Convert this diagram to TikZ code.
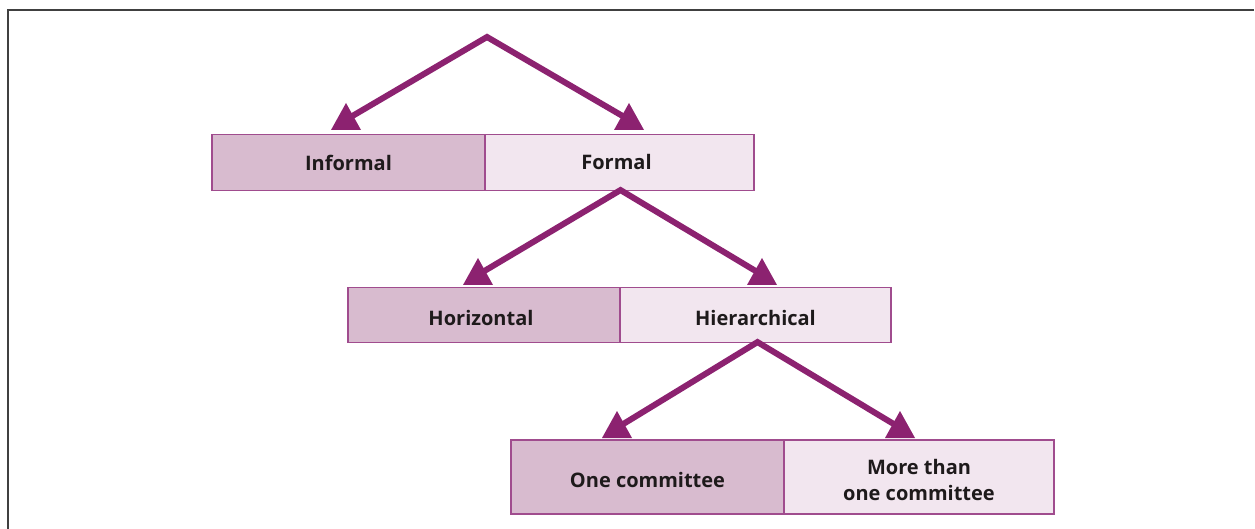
\documentclass[tikz,border=0pt]{standalone}
\usepackage{fontspec}
\setmainfont{Open Sans}
\usetikzlibrary{calc}
\definecolor{framegray}{HTML}{404040}
\definecolor{plum}{HTML}{8C2270}
\definecolor{edgeplum}{HTML}{A04C8E}
\definecolor{darkfill}{HTML}{D8BBCF}
\definecolor{lightfill}{HTML}{F2E6EF}
\definecolor{inktext}{HTML}{1E1A1B}
\tikzset{
  cell/.style={draw=edgeplum, line width=1.2pt, inner sep=0pt},
  darkcell/.style={cell, fill=darkfill},
  lightcell/.style={cell, fill=lightfill},
  % caption set inside a cell, lowered by #1
  cap/.style={inner sep=0pt, text=inktext, align=center, yshift=-#1,
    font=\fontsize{20}{26}\selectfont\bfseries},
  branch/.style={draw=plum, line width=6pt},
}
% upright triangular head whose base is centred on #1
\newcommand\headat[1]{\fill[plum] ($(#1)+(-15,0)$) -- ($(#1)+(0,-27)$) -- ($(#1)+(15,0)$) -- cycle;}
\begin{document}
\begin{tikzpicture}[x=1pt,y=-1pt]
\useasboundingbox (0,0) rectangle (1255,529);
\fill[white] (0,0) rectangle (1255,529);
% frame
\draw[framegray, line width=2pt] (7.5,529) -- (7.5,10.5) -- (1254,10.5);

% boxes
\node[darkcell, minimum width=273, minimum height=56,
  label={[cap=0pt]center:Informal}] (inf) at (348.5,162.5) {};
\node[lightcell, minimum width=269, minimum height=56,
  label={[cap=0pt, xshift=-3pt]center:Formal}] (form) at (619.5,162.5) {};
\node[darkcell, minimum width=272, minimum height=55,
  label={[cap=2.5pt, xshift=-3pt]center:Horizontal}] (hor) at (484,315) {};
\node[lightcell, minimum width=271, minimum height=55,
  label={[cap=2.5pt]center:Hierarchical}] (hier) at (755.5,315) {};
\node[darkcell, minimum width=273, minimum height=74,
  label={[cap=2.5pt]center:One committee}] (one) at (647.5,477) {};
\node[lightcell, minimum width=270, minimum height=74,
  label={[cap=2.5pt]center:More than\\one committee}] (more) at (919,477) {};

% branch points and arrow bases
\coordinate (top) at (487,37);
\coordinate (hA) at (346,130);
\coordinate (hB) at (629,130);
\coordinate (hC) at (478,285);
\coordinate (hD) at (762,285);
\coordinate (hE) at (617,438);
\coordinate (hF) at (900,438);

\draw[branch] ($(hA)+(3,-12)$) -- (top) -- ($(hB)+(-3,-12)$);
\draw[branch] ($(hC)+(3,-12)$) -- ($(form.south)+(1,-1)$) -- ($(hD)+(-3,-12)$);
\draw[branch] ($(hE)+(3,-12)$) -- ($(hier.south)+(2,-1)$) -- ($(hF)+(-3,-12)$);
\headat{hA}\headat{hB}\headat{hC}\headat{hD}\headat{hE}\headat{hF}
\end{tikzpicture}
\end{document}
